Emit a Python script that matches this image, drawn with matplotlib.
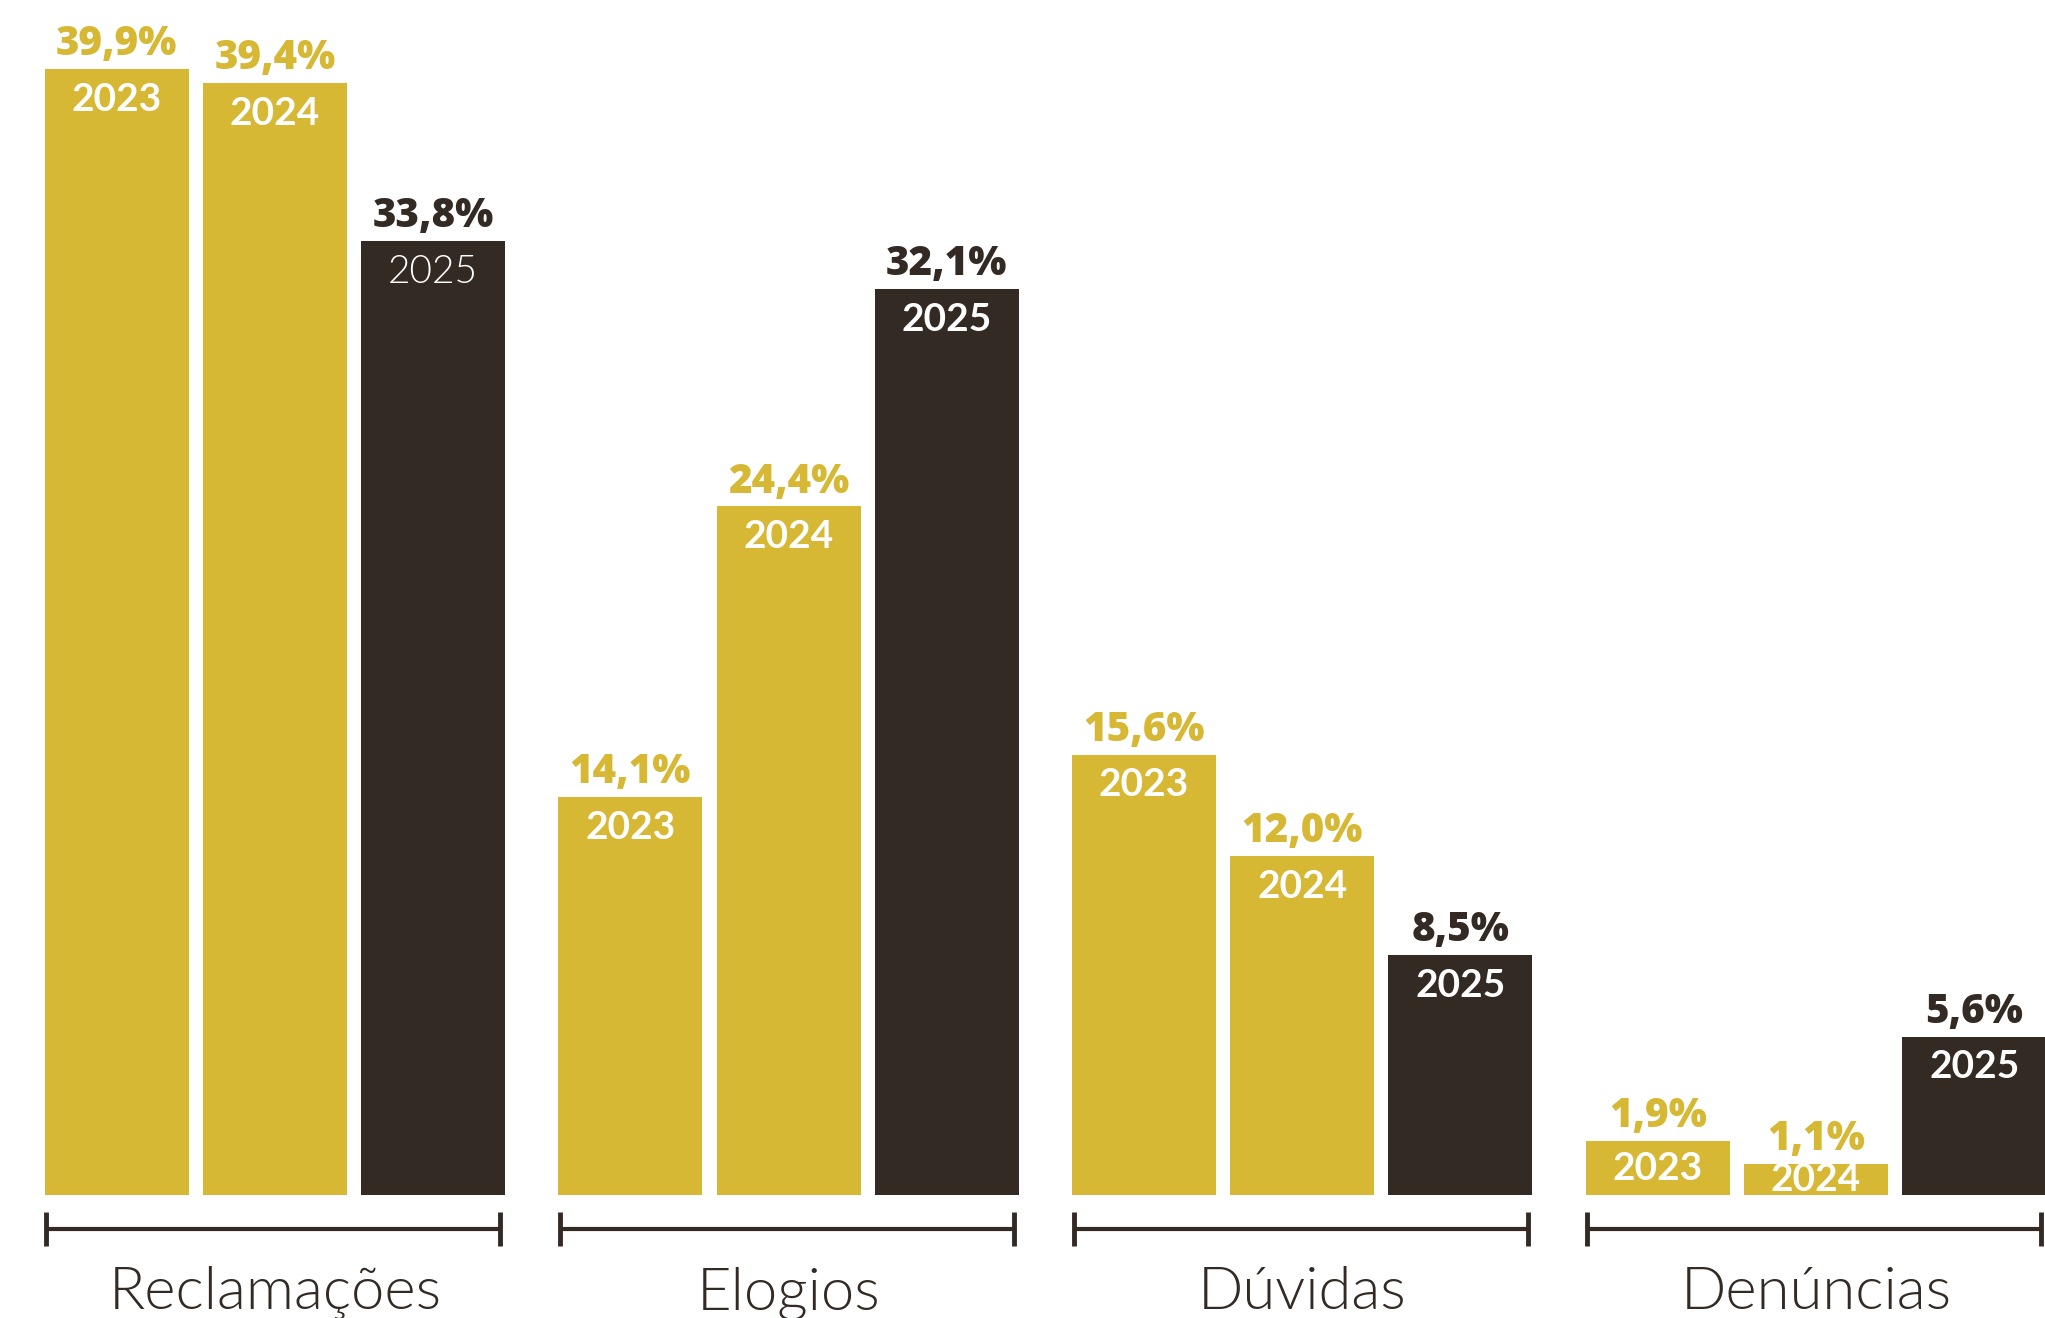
import numpy as np
import matplotlib.pyplot as plt

categories = ["Reclamações", "Elogios", "Dúvidas", "Denúncias"]
years = ["2023", "2024", "2025"]
share_2023 = [39.9, 14.1, 15.6, 1.9]
share_2024 = [39.4, 24.4, 12.0, 1.1]
share_2025 = [33.8, 32.1, 8.5, 5.6]

GOLD = "#d6b834"
DARK = "#332a24"
YEAR_COLORS = [GOLD, GOLD, DARK]

GROUP_STEP = 3.247
BAR_WIDTH = 0.91
FONT = "Lato"
VALUE_FONT = "Open Sans"


def fmt_pct(v):
    return f"{v:.1f}%".replace(".", ",")


fig = plt.figure(figsize=(20.45, 13.18), dpi=100)
ax = fig.add_axes([0, 0, 1, 1])
ax.set_xlim(-0.738, 12.189)
ax.set_ylim(-4.36, 42.35)
ax.axis("off")

series = [share_2023, share_2024, share_2025]
group_x = np.arange(len(categories)) * GROUP_STEP

for j, (values, year, color) in enumerate(zip(series, years, YEAR_COLORS)):
    xs = group_x + j
    ax.bar(xs, values, width=BAR_WIDTH, color=color, linewidth=0)
    for i, (x, v) in enumerate(zip(xs, values)):
        ax.annotate(fmt_pct(v), (x, v), xytext=(0, 10), textcoords="offset points",
                    ha="center", va="baseline", fontsize=29, fontweight=800,
                    color=color, family=VALUE_FONT)
        # the first 2025 label is set in a lighter weight
        weight = 300 if (i == 0 and j == 2) else "bold"
        if v < 3:
            ax.text(x, v / 2, year, ha="center", va="center", fontsize=28,
                    fontweight=weight, color="white", family=FONT)
        else:
            ax.annotate(year, (x, v), xytext=(0, -9), textcoords="offset points",
                        ha="center", va="top", fontsize=28, fontweight=weight,
                        color="white", family=FONT)

# brackets and category names under each group
for gx, name in zip(group_x, categories):
    left = gx - BAR_WIDTH / 2 + 0.01
    right = gx + 2 + BAR_WIDTH / 2 - 0.03
    ax.plot([left, right], [-1.2, -1.2], color=DARK, lw=3, solid_capstyle="butt", clip_on=False)
    for xe in (left, right):
        ax.plot([xe, xe], [-0.6, -1.81], color=DARK, lw=3.5, solid_capstyle="butt", clip_on=False)
    ax.text(gx + 1, -4.05, name, ha="center", va="baseline", fontsize=43,
            fontweight=300, color=DARK, family=FONT)

fig.savefig("out.png", dpi=100, facecolor="white")
